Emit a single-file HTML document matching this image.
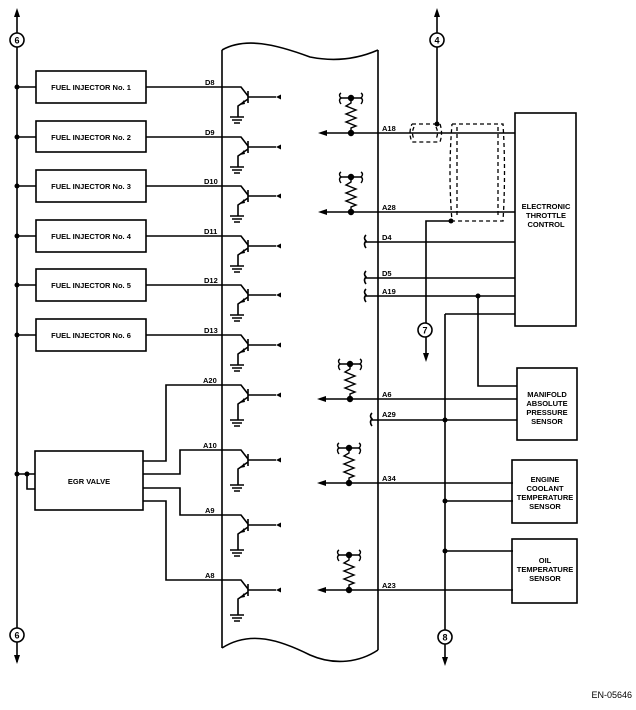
<!DOCTYPE html>
<html><head><meta charset="utf-8"><style>
html,body{margin:0;padding:0;background:#fff;}
svg{display:block;}
text{font-family:"Liberation Sans",sans-serif;font-weight:bold;fill:#000;}
</style></head><body>
<svg width="636" height="710" viewBox="0 0 636 710" xmlns="http://www.w3.org/2000/svg">
<defs>
<g id="tr" fill="none" stroke="#000" stroke-width="1.6">
  <path d="M237,0 L241,0 L248,9"/>
  <path d="M248,4 V16"/>
  <path d="M248,10 H276"/>
  <path d="M248,12 L238,19 V35"/>
  <path d="M230,35 H244 M232,38 H242 M234,41 H240"/>
  <polygon points="276,10 281,7.5 281,12.5" fill="#000" stroke="none"/>
  <polygon points="240,18 244,13 245,17" fill="#000" stroke="none"/>
</g>
<g id="tr2" fill="none" stroke="#000" stroke-width="1.6">
  <path d="M237,0 L241,0 L248,9"/>
  <path d="M248,4 V16"/>
  <path d="M248,10 H276"/>
  <path d="M248,12 L238,19 V30"/>
  <path d="M230,30 H244 M232,33 H242 M234,36 H240"/>
  <polygon points="276,10 281,7.5 281,12.5" fill="#000" stroke="none"/>
  <polygon points="240,18 244,13 245,17" fill="#000" stroke="none"/>
</g>
<g id="res" fill="none" stroke="#000" stroke-width="1.4">
  <path d="M0,0 V5 L-5,8 L5,12 L-5,16 L5,20 L-5,24 L5,28 L0,30 V35"/>
  <path d="M-10,0 H10"/>
  <path d="M-10,-5 q-3,2 0,5 q-3,2 0,6 M10,-5 q3,2 0,5 q3,2 0,6"/>
  <circle cx="0" cy="0" r="2.5" fill="#000"/>
  <circle cx="0" cy="35" r="2.5" fill="#000"/>
</g>
</defs>
<g fill="none" stroke="#000" stroke-width="1.6">
<path d="M17,12 V662"/>
<path d="M222,50 C245,37 275,44 310,57 C340,63 362,57 378,50"/>
<path d="M222,50 V648 M378,50 V650"/>
<path d="M222,648 C250,630 280,640 310,655 C335,666 360,662 378,650"/>
<rect x="36" y="71" width="110" height="32"/>
<rect x="36" y="121" width="110" height="31"/>
<rect x="36" y="170" width="110" height="32"/>
<rect x="36" y="220" width="110" height="32"/>
<rect x="36" y="269" width="110" height="32"/>
<rect x="36" y="319" width="110" height="32"/>
<path d="M17,87 H36 M146,87 H237 M17,137 H36 M146,137 H237 M17,186 H36 M146,186 H237 M17,236 H36 M146,236 H237 M17,285 H36 M146,285 H237 M17,335 H36 M146,335 H237"/>
<rect x="35" y="451" width="108" height="59"/>
<path d="M17,474 H35 M27,474 V489 H35"/>
<path d="M143,461 H166 V385 H237"/>
<path d="M143,474 H180 V450 H237"/>
<path d="M143,488 H180 V515 H237"/>
<path d="M143,501 H166 V580 H237"/>
<path d="M322,133 H515"/>
<path d="M322,212 H515"/>
<path d="M365,242 H515 M365,278 H515 M365,296 H515"/>
<path d="M445,314 H515 M445,314 V662"/>
<path d="M478,296 V386 H517"/>
<path d="M437,12 V124"/>
<path d="M451,221 H426 V358"/>
<path d="M322,399 H517"/>
<path d="M372,420 H517"/>
<path d="M322,483 H513 M445,501 H513 M445,551 H513 M322,590 H513"/>
<path d="M366,235 q-3,3 0,6 q-3,3 0,7 M366,271 q-3,3 0,6 q-3,3 0,7 M366,289 q-3,3 0,6 q-3,3 0,7 M372,413 q-3,3 0,6 q-3,3 0,7"/>
<rect x="515" y="113" width="61" height="213"/>
<rect x="517" y="368" width="60" height="72"/>
<rect x="512" y="460" width="65" height="63"/>
<rect x="512" y="539" width="65" height="64"/>
<g stroke-dasharray="4,3" stroke-width="1.3">
<path d="M412,124 H440 M440,124 q3,9 0,18 H412 q-4,-9 0,-18 M414,127 q-3,6 0,12 M436,127 q3,6 0,12"/>
<path d="M452,124 H503 q3,48 0,97 H452 q-4,-48 0,-97 M457,127 V218 M498,127 V218"/>
</g>
<circle cx="17" cy="40" r="7" fill="#fff"/>
<circle cx="17" cy="635" r="7" fill="#fff"/>
<circle cx="437" cy="40" r="7" fill="#fff"/>
<circle cx="425" cy="330" r="7" fill="#fff"/>
<circle cx="445" cy="637" r="7" fill="#fff"/>
</g>
<g fill="#000">
<polygon points="17,8 14,17 20,17"/>
<polygon points="17,664 14,655 20,655"/>
<polygon points="437,8 434,17 440,17"/>
<polygon points="426,362 423,353 429,353"/>
<polygon points="445,666 442,657 448,657"/>
<polygon points="318,133 327,130 327,136"/>
<polygon points="318,212 327,209 327,215"/>
<polygon points="317,399 326,396 326,402"/>
<polygon points="317,483 326,480 326,486"/>
<polygon points="317,590 326,587 326,593"/>
<circle cx="17" cy="87" r="2.5"/><circle cx="17" cy="137" r="2.5"/><circle cx="17" cy="186" r="2.5"/>
<circle cx="17" cy="236" r="2.5"/><circle cx="17" cy="285" r="2.5"/><circle cx="17" cy="335" r="2.5"/>
<circle cx="17" cy="474" r="2.5"/><circle cx="27" cy="474" r="2.5"/>
<circle cx="437" cy="124" r="2.5"/><circle cx="451" cy="221" r="2.5"/>
<circle cx="478" cy="296" r="2.5"/><circle cx="445" cy="420" r="2.5"/>
<circle cx="445" cy="501" r="2.5"/><circle cx="445" cy="551" r="2.5"/>
</g>
<use href="#tr2" transform="translate(0,87)"/>
<use href="#tr2" transform="translate(0,137)"/>
<use href="#tr2" transform="translate(0,186)"/>
<use href="#tr2" transform="translate(0,236)"/>
<use href="#tr2" transform="translate(0,285)"/>
<use href="#tr2" transform="translate(0,335)"/>
<use href="#tr" transform="translate(0,385)"/>
<use href="#tr" transform="translate(0,450)"/>
<use href="#tr" transform="translate(0,515)"/>
<use href="#tr" transform="translate(0,580)"/>
<use href="#res" transform="translate(351,98)"/>
<use href="#res" transform="translate(351,177)"/>
<use href="#res" transform="translate(350,364)"/>
<use href="#res" transform="translate(349,448)"/>
<use href="#res" transform="translate(349,555)"/>
<g font-size="7.5">
<text x="91" y="90" text-anchor="middle">FUEL INJECTOR No. 1</text>
<text x="91" y="140" text-anchor="middle">FUEL INJECTOR No. 2</text>
<text x="91" y="189" text-anchor="middle">FUEL INJECTOR No. 3</text>
<text x="91" y="239" text-anchor="middle">FUEL INJECTOR No. 4</text>
<text x="91" y="288" text-anchor="middle">FUEL INJECTOR No. 5</text>
<text x="91" y="338" text-anchor="middle">FUEL INJECTOR No. 6</text>
<text x="89" y="484" text-anchor="middle">EGR VALVE</text>
<text x="205" y="85">D8</text><text x="205" y="135">D9</text><text x="204" y="184">D10</text>
<text x="204" y="234">D11</text><text x="204" y="283">D12</text><text x="204" y="333">D13</text>
<text x="203" y="383">A20</text><text x="203" y="448">A10</text><text x="205" y="513">A9</text><text x="205" y="578">A8</text>
<text x="382" y="131">A18</text><text x="382" y="210">A28</text><text x="382" y="240">D4</text>
<text x="382" y="276">D5</text><text x="382" y="294">A19</text><text x="382" y="397">A6</text>
<text x="382" y="417">A29</text><text x="382" y="481">A34</text><text x="382" y="588">A23</text>
</g>
<g font-size="7.5" text-anchor="middle">
<text x="546" y="209">ELECTRONIC</text><text x="546" y="218">THROTTLE</text><text x="546" y="227">CONTROL</text>
<text x="547" y="397">MANIFOLD</text><text x="547" y="406">ABSOLUTE</text><text x="547" y="415">PRESSURE</text><text x="547" y="424">SENSOR</text>
<text x="545" y="482">ENGINE</text><text x="545" y="491">COOLANT</text><text x="545" y="500">TEMPERATURE</text><text x="545" y="509">SENSOR</text>
<text x="545" y="563">OIL</text><text x="545" y="572">TEMPERATURE</text><text x="545" y="581">SENSOR</text>
</g>
<g font-size="9" text-anchor="middle">
<text x="17" y="43.5">6</text><text x="17" y="638.5">6</text><text x="437" y="43.5">4</text>
<text x="425" y="333.5">7</text><text x="445" y="640.5">8</text>
</g>
<text x="632" y="698" font-size="9" text-anchor="end" style="font-weight:normal">EN-05646</text>
</svg>
</body></html>
